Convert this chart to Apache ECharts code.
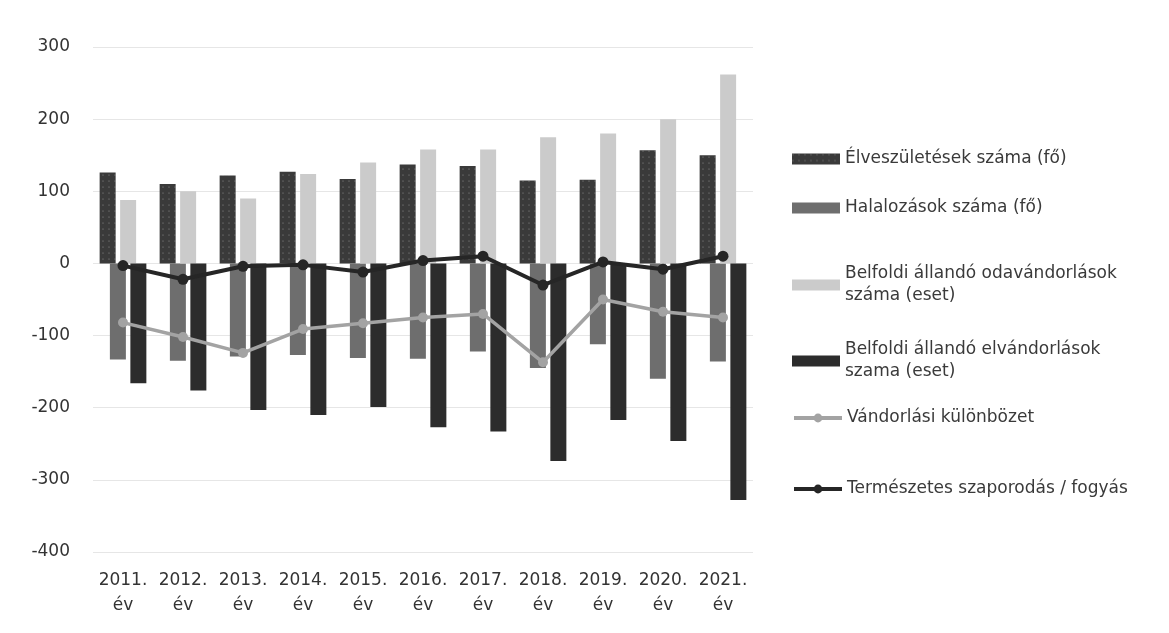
<!DOCTYPE html>
<html>
<head>
<meta charset="utf-8">
<script src="https://cdn.jsdelivr.net/npm/echarts@6/dist/echarts.min.js"></script>
<style>
  html, body { margin: 0; padding: 0; background: #fff; }
  #chart { width: 1169px; height: 633px; }
</style>
</head>
<body>
<div id="chart"></div>
<script>
// évek
const years = ['2011.', '2012.', '2013.', '2014.', '2015.', '2016.', '2017.', '2018.', '2019.', '2020.', '2021.'];
const births = [126, 110, 122, 127, 117, 137, 135, 115, 116, 157, 150];
const deaths = [-133, -135, -129, -127, -131, -132, -122, -145, -112, -160, -136];
const inMigration = [88, 100, 90, 124, 140, 158, 158, 175, 180, 200, 262];
const outMigration = [-166, -176, -203, -210, -199, -227, -233, -274, -217, -246, -328];
const migrationDiff = [-82, -102, -124, -91, -83, -75, -70, -137, -50, -67, -75];
const naturalChange = [-3, -22, -4, -2, -12, 4, 10, -30, 2, -8, 10];

const names = [
  'Élveszületések száma (fő)',
  'Halalozások száma (fő)',
  'Belfoldi állandó odavándorlások száma (eset)',
  'Belfoldi állandó elvándorlások szama (eset)',
  'Vándorlási különbözet',
  'Természetes szaporodás / fogyás'
];

const font = 'DejaVu Sans';
const myChart = echarts.init(document.getElementById('chart'));

// legend egyenként pozícionálva
const legendTops = [157, 206, 272, 348, 416, 487];
const legendLabels = [
  names[0], names[1],
  'Belfoldi állandó odavándorlások\nszáma (eset)',
  'Belfoldi állandó elvándorlások\nszama (eset)',
  names[4], names[5]
];
const legends = names.map((n, i) => {
  const twoLine = i === 2 || i === 3;
  const l = {
    data: [n],
    left: 787,
    top: legendTops[i] - (twoLine ? 17 : 6) - 8,
    itemWidth: 48,
    itemHeight: 11,
    icon: i < 4 ? 'rect' : undefined,
    selectedMode: false,
    formatter: () => legendLabels[i],
    textStyle: {
      fontFamily: font, fontSize: 17, color: '#3a3a3a', lineHeight: 22,
      padding: twoLine ? [22, 0, 0, 0] : 0
    }
  };
  if (i >= 4) l.lineStyle = { width: 4 };
  return l;
});

const barW = 16;
const barGap = '-36%';

const option = {
  backgroundColor: '#fff',
  animation: false,
  grid: { left: 93, right: 416, top: 47, bottom: 81 },
  legend: legends,
  xAxis: {
    type: 'category',
    data: years,
    axisLine: { show: false },
    axisTick: { show: false },
    axisLabel: {
      interval: 0,
      margin: 16,
      fontFamily: font, fontSize: 17, color: '#333', lineHeight: 25,
      formatter: v => v + '\név'
    }
  },
  yAxis: {
    type: 'value',
    min: -400, max: 300, interval: 100,
    axisLine: { show: false },
    axisTick: { show: false },
    axisLabel: { margin: 23, fontFamily: font, fontSize: 17, color: '#333' },
    splitLine: { lineStyle: { color: '#e6e6e6', width: 1 } }
  },
  series: [
    { name: names[0], type: 'bar', data: births, barWidth: barW, barGap: barGap,
      itemStyle: { color: '#3a3a3a',
        decal: { symbol: 'circle', symbolSize: 0.6, color: 'rgba(255,255,255,0.45)', dashArrayX: [2, 4], dashArrayY: [2, 4], rotation: 0 } } },
    { name: names[1], type: 'bar', data: deaths, barWidth: barW, barGap: barGap,
      itemStyle: { color: '#6e6e6e' } },
    { name: names[2], type: 'bar', data: inMigration, barWidth: barW, barGap: barGap,
      itemStyle: { color: '#cbcbcb' } },
    { name: names[3], type: 'bar', data: outMigration, barWidth: barW, barGap: barGap,
      itemStyle: { color: '#2c2c2c' } },
    { name: names[4], type: 'line', data: migrationDiff, symbol: 'circle', symbolSize: 10,
      lineStyle: { color: '#a3a3a3', width: 3.5 }, itemStyle: { color: '#a3a3a3' }, z: 5 },
    { name: names[5], type: 'line', data: naturalChange, symbol: 'circle', symbolSize: 11,
      lineStyle: { color: '#262626', width: 4 }, itemStyle: { color: '#262626' }, z: 6 }
  ]
};

myChart.setOption(option);
</script>
</body>
</html>
